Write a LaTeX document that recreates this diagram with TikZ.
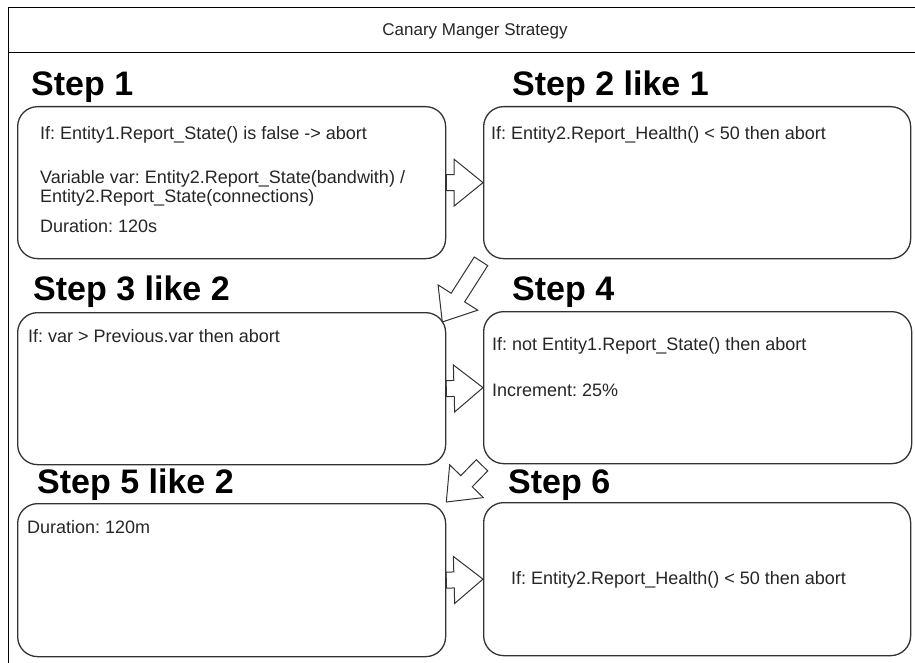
\documentclass[tikz,border=0pt]{standalone}
\usepackage{fontspec}
\setmainfont{Liberation Sans}
\usetikzlibrary{calc}
\frenchspacing

\definecolor{edge}{RGB}{51,51,51}
\definecolor{ink}{RGB}{38,38,38}

% outlined block arrow from #2 to #3; #1 names its head-base point
\newcommand\blockarrow[3]{%
  \coordinate (#1-h) at ($(#3)!29pt!(#2)$);
  \draw[blockarr]
    ($(#2)!8pt!90:(#3)$) -- ($(#1-h)!8pt!90:(#3)$) -- ($(#1-h)!23.5pt!90:(#3)$)
    -- (#3)
    -- ($(#1-h)!23.5pt!-90:(#3)$) -- ($(#1-h)!8pt!-90:(#3)$) -- ($(#2)!8pt!-90:(#3)$)
    -- cycle;}

\begin{document}
\begin{tikzpicture}[x=1pt,y=-1pt,
  stepbox/.style={draw=edge, line width=1.3pt, rounded corners=20pt,
    minimum width=428pt, minimum height=152pt, inner sep=0pt, anchor=north west},
  blockarr/.style={draw=edge, line width=1pt, line join=miter},
  heading/.style={font=\fontsize{34}{40}\selectfont\bfseries, text=black,
    anchor=base west, inner sep=0pt},
  body/.style={font=\fontsize{18}{21}\selectfont, text=ink,
    anchor=base west, inner sep=0pt},
  frame/.style={draw=black, line width=1.2pt}]

\useasboundingbox (0,0) rectangle (915,663);
\fill[white] (0,0) rectangle (915,663);

% outer frame with the title band
\draw[frame] (915,7.5) -- (8.5,7.5) -- (8.5,663);
\draw[frame] (8.5,52.5) -- (915,52.5);
\node[body, anchor=base, font=\fontsize{17}{20}\selectfont] (title) at (475,36) {Canary Manger Strategy};

% step boxes
\node[stepbox] (s1) at (17,106) {};
\node[stepbox, minimum width=427pt] (s2) at (483,106) {};
\node[stepbox] (s3) at (17,312) {};
\node[stepbox] (s4) at (483,311) {};
\node[stepbox, minimum height=153pt] (s5) at (17,503) {};
\node[stepbox, minimum width=427pt, minimum height=153pt] (s6) at (483,502) {};

% headings
\node[heading] (h1) at (31,96)  {Step 1};
\node[heading] (h2) at (512,96) {Step 2 like 1};
\node[heading] (h3) at (33,300) {Step 3 like 2};
\node[heading] (h4) at (512,300) {Step 4};
\node[heading] (h5) at (37,493) {Step 5 like 2};
\node[heading] (h6) at (508,493) {Step 6};

% box contents
\node[body] (t1a) at (40,140) {If: Entity1.Report\_State() is false -> abort};
\node[body] (t1b) at (40,183) {Variable var: Entity2.Report\_State(bandwith) /};
\node[body] (t1c) at (40,203) {Entity2.Report\_State(connections)};
\node[body] (t1d) at (40,233) {Duration: 120s};
\node[body] (t2)  at (491,140) {If: Entity2.Report\_Health() < 50 then abort};
\node[body] (t3)  at (28,342) {If: var > Previous.var then abort};
\node[body] (t4a) at (492,350) {If: not Entity1.Report\_State() then abort};
\node[body] (t4b) at (492,396) {Increment: 25\%};
\node[body] (t5)  at (27,533) {Duration: 120m};
\node[body] (t6)  at (511,584) {If: Entity2.Report\_Health() < 50 then abort};

% flow between the steps
\blockarrow{a12}{s1.east}{s2.west}
\blockarrow{a23}{$(s2.south west)+(-2,2)$}{$(s3.north east)+(-4,10)$}
\blockarrow{a34}{s3.east}{s4.west}
\blockarrow{a45}{$(s4.south west)+(-1,1)$}{$(s5.north east)+(0,-1)$}
\blockarrow{a56}{s5.east}{s6.west}

\end{tikzpicture}
\end{document}
